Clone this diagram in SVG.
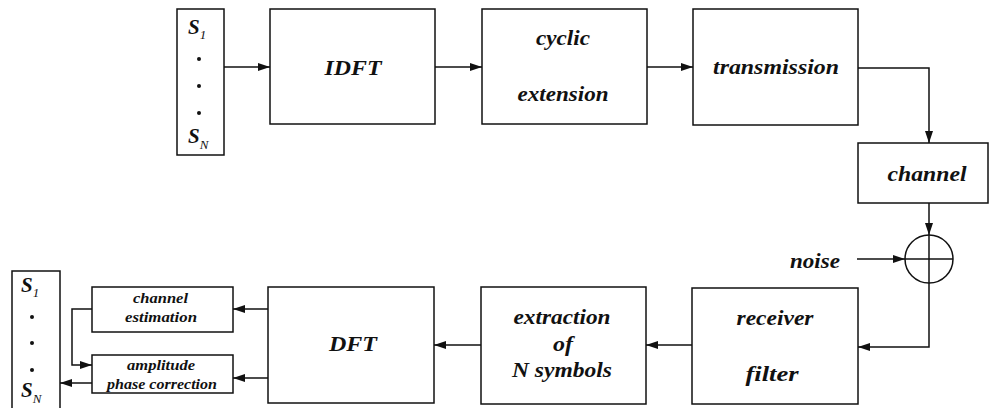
<svg xmlns="http://www.w3.org/2000/svg" width="990" height="408" viewBox="0 0 990 408">
<defs>
<style>
.box{fill:#fff;stroke:#111;stroke-width:1.5}
.ln{fill:none;stroke:#111;stroke-width:1.5}
.t{font-family:"Liberation Serif","Times New Roman",serif;font-weight:bold;font-style:italic;fill:#111;text-anchor:middle}
.m{font-size:20px}
.s{font-size:14px}
.sym{font-size:21px}
.sub{font-size:13px;font-weight:normal}
.dot{fill:#111}
</style>
<marker id="ah" viewBox="0 0 12 8" refX="12" refY="4" markerWidth="12" markerHeight="8" orient="auto" markerUnits="userSpaceOnUse">
<path d="M0,0 L12,4 L0,8 z" fill="#111"/>
</marker>
</defs>
<rect width="990" height="408" fill="#fff"/>

<g id="input">
<rect class="box" x="177" y="9" width="47" height="146"/>
<text class="t sym" x="188" y="34" style="text-anchor:start">S<tspan class="sub" dy="5">1</tspan></text>
<circle class="dot" cx="199" cy="59" r="2"/>
<circle class="dot" cx="199" cy="86" r="2"/>
<circle class="dot" cx="199" cy="113" r="2"/>
<text class="t sym" x="188" y="143" style="text-anchor:start">S<tspan class="sub" dy="6">N</tspan></text>
</g>

<g id="idft">
<rect class="box" x="270" y="9" width="165" height="115"/>
<text class="t m" x="353" y="75" textLength="57" lengthAdjust="spacingAndGlyphs">IDFT</text>
</g>

<g id="cyclic">
<rect class="box" x="482" y="9" width="165" height="115"/>
<text class="t m" x="563" y="45" textLength="54" lengthAdjust="spacingAndGlyphs">cyclic</text>
<text class="t m" x="563" y="101" textLength="91" lengthAdjust="spacingAndGlyphs">extension</text>
</g>

<g id="transmission">
<rect class="box" x="693" y="9" width="165" height="116"/>
<text class="t m" x="776" y="74" textLength="126" lengthAdjust="spacingAndGlyphs">transmission</text>
</g>

<g id="channel">
<rect class="box" x="858" y="143" width="130" height="60"/>
<text class="t m" x="927" y="181" textLength="79" lengthAdjust="spacingAndGlyphs">channel</text>
</g>

<g id="adder">
<circle class="ln" cx="929" cy="259" r="24"/>
<line class="ln" x1="905" y1="259" x2="953" y2="259"/>
<line class="ln" x1="929" y1="235" x2="929" y2="283"/>
</g>

<g id="noise">
<text class="t m" x="840" y="268" style="text-anchor:end" textLength="50" lengthAdjust="spacingAndGlyphs">noise</text>
</g>

<g id="receiver">
<rect class="box" x="692" y="288" width="166" height="116"/>
<text class="t m" x="775" y="325" textLength="77" lengthAdjust="spacingAndGlyphs">receiver</text>
<text class="t m" x="772" y="381" textLength="53" lengthAdjust="spacingAndGlyphs">filter</text>
</g>

<g id="extraction">
<rect class="box" x="481" y="287" width="165" height="117"/>
<text class="t m" x="562" y="324" textLength="97" lengthAdjust="spacingAndGlyphs">extraction</text>
<text class="t m" x="563" y="351" textLength="20" lengthAdjust="spacingAndGlyphs">of</text>
<text class="t m" x="562" y="377" textLength="100" lengthAdjust="spacingAndGlyphs">N symbols</text>
</g>

<g id="dft">
<rect class="box" x="268" y="287" width="166" height="116"/>
<text class="t m" x="353" y="351" textLength="48" lengthAdjust="spacingAndGlyphs">DFT</text>
</g>

<g id="estimation">
<rect class="box" x="92" y="287" width="141" height="45"/>
<text class="t s" x="160.5" y="303" textLength="55" lengthAdjust="spacingAndGlyphs">channel</text>
<text class="t s" x="161" y="322" textLength="72" lengthAdjust="spacingAndGlyphs">estimation</text>
</g>

<g id="correction">
<rect class="box" x="92" y="355" width="141" height="38"/>
<text class="t s" x="161" y="370" textLength="68" lengthAdjust="spacingAndGlyphs">amplitude</text>
<text class="t s" x="162" y="389" textLength="110" lengthAdjust="spacingAndGlyphs">phase correction</text>
</g>

<g id="output">
<rect class="box" x="12" y="271" width="48" height="140"/>
<text class="t sym" x="21" y="292" style="text-anchor:start">S<tspan class="sub" dy="5">1</tspan></text>
<circle class="dot" cx="32" cy="317" r="2"/>
<circle class="dot" cx="32" cy="343" r="2"/>
<circle class="dot" cx="32" cy="370" r="2"/>
<text class="t sym" x="21" y="397" style="text-anchor:start">S<tspan class="sub" dy="6">N</tspan></text>
</g>

<g id="connectors">
<line class="ln" x1="224" y1="67" x2="270" y2="67" marker-end="url(#ah)"/>
<line class="ln" x1="435" y1="67" x2="482" y2="67" marker-end="url(#ah)"/>
<line class="ln" x1="647" y1="67" x2="693" y2="67" marker-end="url(#ah)"/>
<polyline class="ln" points="858,68 929,68 929,143" marker-end="url(#ah)"/>
<line class="ln" x1="929" y1="203" x2="929" y2="235" marker-end="url(#ah)"/>
<line class="ln" x1="857" y1="259" x2="905" y2="259" marker-end="url(#ah)"/>
<polyline class="ln" points="929,283 929,347 858,347" marker-end="url(#ah)"/>
<line class="ln" x1="692" y1="345" x2="646" y2="345" marker-end="url(#ah)"/>
<line class="ln" x1="481" y1="345" x2="434" y2="345" marker-end="url(#ah)"/>
<line class="ln" x1="268" y1="309" x2="233" y2="309" marker-end="url(#ah)"/>
<line class="ln" x1="268" y1="378" x2="233" y2="378" marker-end="url(#ah)"/>
<polyline class="ln" points="92,309 72,309 72,365 92,365" marker-end="url(#ah)"/>
<line class="ln" x1="92" y1="383" x2="60" y2="383" marker-end="url(#ah)"/>
</g>
</svg>
